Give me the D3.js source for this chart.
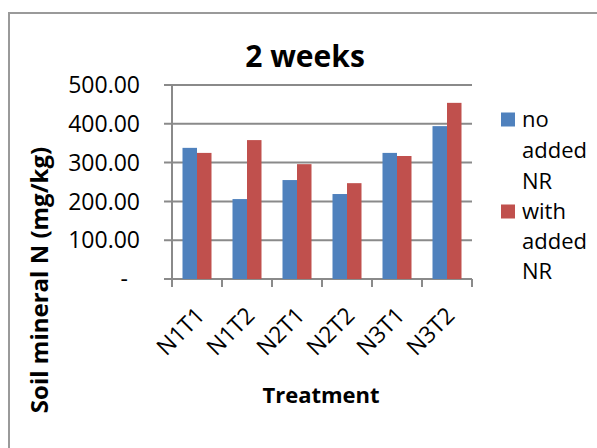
<!DOCTYPE html>
<html>
<head>
<meta charset="utf-8">
<script src="https://cdn.jsdelivr.net/npm/d3@7"></script>
<style>
  html, body { margin: 0; padding: 0; background: #fff; }
  svg { display: block; font-family: "Open Sans", sans-serif; }
</style>
</head>
<body>
<svg id="chart" width="597" height="448"></svg>
<script>
const categories = ["N1T1", "N1T2", "N2T1", "N2T2", "N3T1", "N3T2"];
const seriesNames = ["no added NR", "with added NR"];
const noAddedNR = [338, 206, 255, 219, 325, 394];
const withAddedNR = [325, 358, 296, 247, 317, 454];
const yTicks = [0, 100, 200, 300, 400, 500];
const colors = ["#4F81BD", "#C0504D"];

const svg = d3.select("#chart");

// outer chart border
svg.append("rect")
  .attr("x", 9).attr("y", 13)
  .attr("width", 620).attr("height", 460)
  .attr("fill", "none").attr("stroke", "#9a9a9a").attr("stroke-width", 2);

const x0 = d3.scaleBand().domain(categories).range([172, 472])
  .paddingInner(0.42).paddingOuter(0.21);
const x1 = d3.scaleBand().domain(seriesNames).range([0, x0.bandwidth()]);
const y = d3.scaleLinear().domain([0, 500]).range([279, 85]);

const gridColor = "#8a8a8a";

// gridlines
svg.append("g").selectAll("line").data(yTicks).join("line")
  .attr("x1", 164).attr("x2", 472)
  .attr("y1", d => y(d)).attr("y2", d => y(d))
  .attr("stroke", gridColor).attr("stroke-width", 2);

// y axis line
svg.append("line")
  .attr("x1", 172).attr("x2", 172).attr("y1", y(500)).attr("y2", y(0) + 8)
  .attr("stroke", gridColor).attr("stroke-width", 2);

// x tick marks at category boundaries
const tickXs = d3.range(1, categories.length + 1).map(i => x0.range()[0] + i * x0.step());
svg.append("g").selectAll("line").data(tickXs).join("line")
  .attr("x1", d => d).attr("x2", d => d)
  .attr("y1", y(0)).attr("y2", y(0) + 8)
  .attr("stroke", gridColor).attr("stroke-width", 2);

// bars
const data = categories.map((c, i) => ({ c, vals: [noAddedNR[i], withAddedNR[i]] }));
const groups = svg.append("g").selectAll("g").data(data).join("g")
  .attr("transform", d => `translate(${x0(d.c)},0)`);
groups.selectAll("rect").data(d => d.vals.map((v, j) => ({ v, s: seriesNames[j], j })))
  .join("rect")
  .attr("x", d => x1(d.s)).attr("width", x1.bandwidth())
  .attr("y", d => y(d.v)).attr("height", d => y(0) - y(d.v))
  .attr("fill", d => colors[d.j]);

// y tick labels
svg.append("g").selectAll("text").data(yTicks).join("text")
  .attr("x", d => d === 0 ? 128 : 140)
  .attr("y", d => y(d))
  .attr("dy", "0.36em")
  .attr("text-anchor", "end")
  .attr("font-size", 23)
  .attr("fill", "#000")
  .text(d => d === 0 ? "-" : d3.format(".2f")(d));

// x tick labels
svg.append("g").selectAll("text").data(categories).join("text")
  .attr("transform", d => `translate(${x0(d) + x0.bandwidth() / 2 + 9},${y(0) + 38}) rotate(-45)`)
  .attr("text-anchor", "end")
  .attr("font-size", 23)
  .attr("fill", "#000")
  .text(d => d);

// title
svg.append("text")
  .attr("x", 305).attr("y", 67)
  .attr("text-anchor", "middle")
  .attr("font-size", 30).attr("font-weight", "bold")
  .text("2 weeks");

// axis titles
svg.append("text")
  .attr("x", 321).attr("y", 403)
  .attr("text-anchor", "middle")
  .attr("font-size", 22).attr("font-weight", "bold")
  .text("Treatment");

svg.append("text")
  .attr("transform", "translate(48,280) rotate(-90)")
  .attr("text-anchor", "middle")
  .attr("font-size", 24).attr("font-weight", "bold")
  .text("Soil mineral N (mg/kg)");

// legend
const legendLines = [["no", "added", "NR"], ["with", "added", "NR"]];
const legendBase = [127, 219];
const lineStep = [31, 30];
const lg = svg.append("g");
legendLines.forEach((lines, i) => {
  lg.append("rect")
    .attr("x", 501).attr("y", legendBase[i] - 14.5)
    .attr("width", 14).attr("height", 14)
    .attr("fill", colors[i]);
  lines.forEach((t, k) => {
    lg.append("text")
      .attr("x", 522).attr("y", legendBase[i] + k * lineStep[i])
      .attr("font-size", 22)
      .text(t);
  });
});
</script>
</body>
</html>
